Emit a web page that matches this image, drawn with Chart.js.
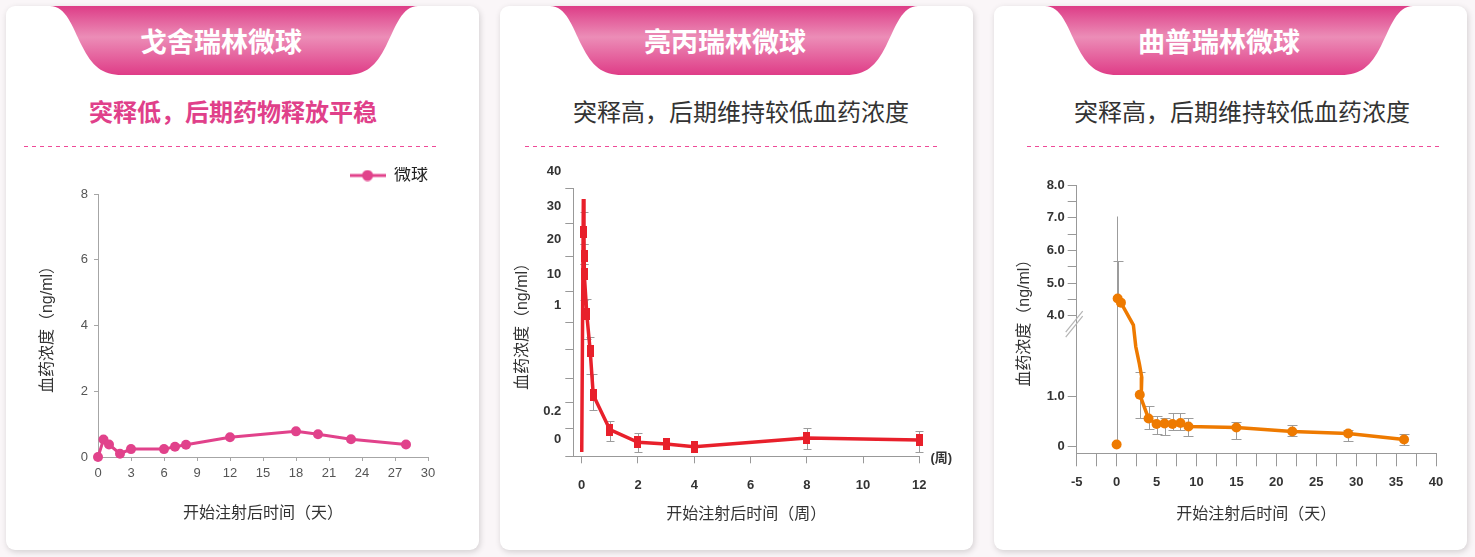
<!DOCTYPE html>
<html lang="zh-CN">
<head>
<meta charset="UTF-8">
<title>微球血药浓度对比</title>
<script src="https://cdn.jsdelivr.net/npm/chart.js"></script>
<style>
  body {
    margin: 0;
    width: 1475px;
    height: 557px;
    background: #faf6f8;
    font-family: "Noto Sans CJK SC", sans-serif;
    position: relative;
    overflow: hidden;
  }
  .card {
    position: absolute;
    top: 6px;
    width: 473px;
    height: 544px;
    background: #fff;
    border-radius: 9px;
    box-shadow: 1px 2px 6px rgba(0, 0, 0, 0.16);
  }
  .ribbon { position: absolute; top: 0; width: 368px; height: 69px; }
  .ribbon svg { display: block; }
  .title {
    position: absolute;
    top: 16px;
    width: 300px;
    line-height: 38px;
    text-align: center;
    color: #fff;
    font-size: 27px;
    font-weight: 700;
  }
  .sub {
    position: absolute;
    top: 89px;
    width: 400px;
    line-height: 32px;
    text-align: center;
    font-size: 24px;
    color: #333;
  }
  .sub.hot { color: #e0408a; font-weight: 700; }
  .dash {
    position: absolute;
    top: 140px;
    width: 415px;
    height: 1px;
    background: repeating-linear-gradient(90deg, #ef4a98 0 4px, transparent 4px 8px);
  }
  .plot { position: absolute; left: 0; top: 144px; width: 472px; height: 398px; }
</style>
</head>
<body>
  <div class="card" style="left:6px">
    <div class="ribbon" style="left:44px"><svg width="368" height="69"><use href="#rib"/></svg></div>
    <div class="title" style="left:65px">戈舍瑞林微球</div>
    <div class="sub hot" style="left:27px">突释低，后期药物释放平稳</div>
    <div class="dash" style="left:18px"></div>
    <div class="plot"><canvas id="gos"></canvas></div>
  </div>
  <div class="card" style="left:500px">
    <div class="ribbon" style="left:50px"><svg width="368" height="69"><use href="#rib"/></svg></div>
    <div class="title" style="left:75px">亮丙瑞林微球</div>
    <div class="sub" style="left:41px">突释高，后期维持较低血药浓度</div>
    <div class="dash" style="left:25px"></div>
    <div class="plot"><canvas id="lup"></canvas></div>
  </div>
  <div class="card" style="left:994px">
    <div class="ribbon" style="left:51px"><svg width="368" height="69"><use href="#rib"/></svg></div>
    <div class="title" style="left:75px">曲普瑞林微球</div>
    <div class="sub" style="left:48px">突释高，后期维持较低血药浓度</div>
    <div class="dash" style="left:33px"></div>
    <div class="plot"><canvas id="tri"></canvas></div>
  </div>

  <svg width="0" height="0" style="position:absolute">
    <defs>
      <linearGradient id="ribGrad" x1="0" y1="0" x2="0" y2="1">
        <stop offset="0" stop-color="#dd3d87"/>
        <stop offset="0.45" stop-color="#ec8db7"/>
        <stop offset="1" stop-color="#df3c87"/>
      </linearGradient>
      <path id="rib" fill="url(#ribGrad)"
        d="M0,0 L368,0 C352,0 346,20 336,40 C326,60 316,69 296,69 L72,69 C52,69 42,60 32,40 C22,20 16,0 0,0 Z"/>
    </defs>
  </svg>

<script>
// ---- 戈舍瑞林微球 (天, ng/ml)
const gosDay  = [0, 0.5, 1, 2, 3, 6, 7, 8, 12, 18, 20, 23, 28];
const gosConc = [0, 0.53, 0.38, 0.10, 0.24, 0.24, 0.31, 0.37, 0.60, 0.78, 0.69, 0.54, 0.38];

// ---- 亮丙瑞林微球 (周, ng/ml); first two points are the unmarked rise to the peak
const lupWeek   = [0, 0.057, 0.08, 0.085, 0.09, 0.18, 0.3, 0.41, 1, 2, 3, 4, 8, 12];
const lupConc   = [0.03, 37, 27.3, 20.1, 14.9, 3.3, 0.79, 0.46, 0.19, 0.10, 0.088, 0.069, 0.13, 0.117];
const lupHi     = [null, null, 33.2, 23.6, 17.7, 7.9, 0.89, 0.63, 0.26, 0.17, null, null, 0.20, 0.18];
const lupLo     = [null, null, 23.6, 17.7, 7.4, 0.88, 0.63, 0.34, 0.107, 0.03, null, null, 0.055, 0.034];
const lupMarked = [0, 0, 1, 1, 1, 1, 1, 1, 1, 1, 1, 1, 1, 1];
const lupWeekTicks = [0, 2, 4, 6, 8, 10, 12];
// broken y axis: tick values and where they sit along the axis
const lupTickVals = [0, 0.2, 0.4, 0.6, 0.8, 1, 10, 20, 30, 40];
const lupTickPos  = [0, 28, 54, 78, 107, 134, 165, 200, 233, 267.6];
const lupTickText = ['0', '0.2', '', '', '', '1', '10', '20', '30', '40'];

// ---- 曲普瑞林微球 (天, ng/ml)
const triBaseDay  = [0];
const triBaseConc = [0.03];
const triBaseHi   = [7.05];
const triDay    = [0.13, 0.54, 2.1, 2.4, 2.85, 3.15, 3.1, 2.9, 4, 5, 6, 7, 8, 9, 15, 22, 29, 36];
const triConc   = [4.53, 4.40, 3.65, 2.84, 2.2, 1.7, 1.2, 1.05, 0.55, 0.44, 0.45, 0.44, 0.46, 0.39, 0.37, 0.29, 0.25, 0.13];
const triHi     = [5.67, null, null, null, null, null, null, 1.90, 0.81, 0.61, 0.57, 0.67, 0.67, 0.57, 0.49, 0.43, 0.33, 0.25];
const triLo     = [null, null, null, null, null, null, null, 0.57, 0.34, 0.25, 0.22, 0.33, 0.33, 0.21, 0.14, 0.20, 0.10, 0.02];
const triMarked = [1, 1, 0, 0, 0, 0, 0, 1, 1, 1, 1, 1, 1, 1, 1, 1, 1, 1];
const triTickVals = [0, 1, 4, 4.5, 5, 5.5, 6, 6.5, 7, 7.5, 8];
const triTickPos  = [7.3, 57.3, 137.6, 153.9, 170.3, 186.6, 203, 219.3, 235.6, 252, 268.3];
const triTickText = ['0', '1.0', '4.0', '', '5.0', '', '6.0', '', '7.0', '', '8.0'];
const triBreakAt = 3.7;

Chart.defaults.animation = false;
Chart.defaults.font.family = '"Liberation Sans", "Noto Sans CJK SC", sans-serif';
Chart.defaults.plugins.tooltip.enabled = false;

// value -> position along a broken axis (piecewise linear between ticks)
function brokenAxis(vals, pos) {
  return function (v) {
    if (v <= vals[0]) return pos[0] + (v - vals[0]) * (pos[1] - pos[0]) / (vals[1] - vals[0]);
    for (let i = 1; i < vals.length; i++) {
      if (v <= vals[i]) {
        return pos[i - 1] + (v - vals[i - 1]) * (pos[i] - pos[i - 1]) / (vals[i] - vals[i - 1]);
      }
    }
    return pos[pos.length - 1];
  };
}
const lupPos = brokenAxis(lupTickVals, lupTickPos);
const triPos = brokenAxis(triTickVals, triTickPos);

function errorBars(toAxis) {
  return {
    id: 'errorBars',
    beforeDatasetsDraw(chart) {
      const {ctx, scales: {x, y}} = chart;
      chart.data.datasets.forEach(ds => {
        if (!ds.errHi) return;
        ctx.save();
        ctx.strokeStyle = '#9c9c9c';
        ctx.lineWidth = 1;
        ds.data.forEach((p, i) => {
          const px = Math.round(x.getPixelForValue(p.x)) + 0.5;
          const py0 = y.getPixelForValue(p.y);
          [ds.errHi[i], ds.errLo ? ds.errLo[i] : null].forEach(v => {
            if (v == null) return;
            const py = Math.round(y.getPixelForValue(toAxis(v))) + 0.5;
            ctx.beginPath();
            ctx.moveTo(px, py0);
            ctx.lineTo(px, py);
            if (ds.errCap) {
              ctx.moveTo(px - ds.errCap / 2, py);
              ctx.lineTo(px + ds.errCap / 2, py);
            }
            ctx.stroke();
          });
        });
        ctx.restore();
      });
    }
  };
}

function fixSize(w, h) {
  return function (scale) {
    if (w != null) scale.width = w;
    if (h != null) scale.height = h;
  };
}

const titleFont = {size: 16};
const boldTick = {size: 13, weight: 'bold'};

// ---------- chart 1
const gosColor = '#e1428b';
const legendMark = document.createElement('canvas');
legendMark.width = 36; legendMark.height = 12;
(function () {
  const c = legendMark.getContext('2d');
  c.strokeStyle = gosColor; c.lineWidth = 3;
  c.beginPath(); c.moveTo(0, 6); c.lineTo(36, 6); c.stroke();
  c.fillStyle = gosColor;
  c.beginPath(); c.arc(18, 6, 5.5, 0, Math.PI * 2); c.fill();
})();

new Chart(document.getElementById('gos'), {
  type: 'line',
  data: {
    datasets: [{
      label: '微球',
      data: gosDay.map((d, i) => ({x: d, y: gosConc[i]})),
      borderColor: gosColor,
      backgroundColor: gosColor,
      borderWidth: 3,
      pointRadius: 5,
      pointBorderWidth: 0,
      clip: false
    }]
  },
  options: {
    responsive: true,
    maintainAspectRatio: false,
    layout: {padding: {left: 28.4, right: 50, top: 17, bottom: 20.4}},
    plugins: {
      legend: {
        align: 'end',
        labels: {
          usePointStyle: true,
          pointStyle: legendMark,
          pointStyleWidth: 36,
          color: '#222',
          font: {size: 17, lineHeight: 1},
          padding: 0
        }
      }
    },
    scales: {
      x: {
        type: 'linear', min: 0, max: 30,
        afterFit: fixSize(null, 70.6),
        border: {color: '#a6a6a6'},
        grid: {drawOnChartArea: false, tickLength: 4, tickColor: '#a6a6a6'},
        ticks: {stepSize: 3, color: '#555', font: {size: 13}, padding: 5},
        title: {display: true, text: '开始注射后时间（天）', color: '#333', font: titleFont}
      },
      y: {
        min: 0, max: 8,
        afterFit: fixSize(63.6, null),
        border: {color: '#a6a6a6'},
        grid: {drawOnChartArea: false, tickLength: 4, tickColor: '#a6a6a6'},
        ticks: {stepSize: 2, color: '#555', font: {size: 13}, padding: 6},
        title: {display: true, text: '血药浓度（ng/ml）', color: '#333', font: titleFont}
      }
    }
  }
});

// ---------- chart 2
const lupColor = '#e8202b';
const lupMark = document.createElement('canvas');
lupMark.width = 7; lupMark.height = 12;
(function () {
  const c = lupMark.getContext('2d');
  c.fillStyle = lupColor; c.fillRect(0, 0, 7, 12);
})();

new Chart(document.getElementById('lup'), {
  type: 'line',
  data: {
    datasets: [{
      label: '亮丙瑞林',
      data: lupWeek.map((w, i) => ({x: w, y: lupPos(lupConc[i])})),
      errHi: lupHi,
      errLo: lupLo,
      errCap: 8,
      borderColor: lupColor,
      backgroundColor: lupColor,
      borderWidth: 3.5,
      pointStyle: lupMark,
      pointRadius: lupMarked.map(m => m ? 4 : 0),
      clip: false
    }]
  },
  options: {
    responsive: true,
    maintainAspectRatio: false,
    layout: {padding: {left: 9.4, right: 52.7, top: 38.7, bottom: 19.4}},
    plugins: {legend: {display: false}},
    scales: {
      x: {
        type: 'linear', min: -0.3, max: 12,
        afterBuildTicks: s => { s.ticks = lupWeekTicks.map(v => ({value: v})); },
        afterFit: fixSize(null, 72.3),
        border: {color: '#999'},
        grid: {drawOnChartArea: false, tickLength: 7, tickColor: '#999'},
        ticks: {color: '#333', font: boldTick, padding: 14},
        title: {display: true, text: '开始注射后时间（周）', color: '#333', font: titleFont}
      },
      y: {
        min: 0, max: lupTickPos[lupTickPos.length - 1],
        afterBuildTicks: s => { s.ticks = lupTickPos.map(v => ({value: v})); },
        afterFit: fixSize(63.9, null),
        border: {color: '#999'},
        grid: {drawOnChartArea: false, tickLength: 8, tickColor: '#999'},
        ticks: {
          autoSkip: false,
          color: '#333', font: boldTick, padding: 4, labelOffset: -17,
          callback: (v, i) => lupTickText[i]
        },
        title: {display: true, text: '血药浓度（ng/ml）', color: '#333', font: titleFont}
      }
    }
  },
  plugins: [errorBars(lupPos), {
    id: 'unitLabel',
    afterDraw(chart) {
      const {ctx, scales: {x, y}} = chart;
      ctx.save();
      ctx.fillStyle = '#333';
      ctx.font = 'bold 13px "Liberation Sans", "Noto Sans CJK SC", sans-serif';
      ctx.textAlign = 'center';
      ctx.textBaseline = 'middle';
      ctx.fillText('(周)', x.right + 22, y.bottom + 2);
      ctx.restore();
    }
  }]
});

// ---------- chart 3
const triColor = '#ee7a00';

new Chart(document.getElementById('tri'), {
  type: 'line',
  data: {
    datasets: [{
      label: '曲普瑞林',
      data: triDay.map((d, i) => ({x: d, y: triPos(triConc[i])})),
      errHi: triHi,
      errLo: triLo,
      errCap: 10,
      borderColor: triColor,
      backgroundColor: triColor,
      borderWidth: 3.5,
      pointRadius: triMarked.map(m => m ? 5 : 0),
      pointBorderWidth: 0,
      clip: false
    }, {
      label: '基线',
      data: triBaseDay.map((d, i) => ({x: d, y: triPos(triBaseConc[i])})),
      errHi: triBaseHi,
      errCap: 0,
      showLine: false,
      backgroundColor: triColor,
      borderColor: triColor,
      pointRadius: 5,
      pointBorderWidth: 0,
      clip: false
    }]
  },
  options: {
    responsive: true,
    maintainAspectRatio: false,
    layout: {padding: {left: 17.4, right: 30, top: 35, bottom: 19.4}},
    plugins: {legend: {display: false}},
    scales: {
      x: {
        type: 'linear', min: -5, max: 40,
        afterFit: fixSize(null, 75.3),
        border: {color: '#999'},
        grid: {drawOnChartArea: false, tickLength: 13, tickColor: '#999'},
        ticks: {
          stepSize: 2.5, autoSkip: false, maxRotation: 0,
          color: '#333', font: boldTick, padding: 8,
          callback: v => (v % 5 === 0 ? String(v) : '')
        },
        title: {display: true, text: '开始注射后时间（天）', color: '#333', font: titleFont}
      },
      y: {
        min: 0, max: triTickPos[triTickPos.length - 1],
        afterBuildTicks: s => { s.ticks = triTickPos.map(v => ({value: v})); },
        afterFit: fixSize(65.3, null),
        border: {color: '#999'},
        grid: {drawOnChartArea: false, tickLength: 9, tickColor: '#999'},
        ticks: {
          autoSkip: false,
          color: '#333', font: boldTick, padding: 3,
          callback: (v, i) => triTickText[i]
        },
        title: {display: true, text: '血药浓度（ng/ml）', color: '#333', font: titleFont}
      }
    }
  },
  plugins: [errorBars(triPos), {
    id: 'axisBreak',
    afterDraw(chart) {
      const {ctx, scales: {x, y}} = chart;
      const cx = x.left - 2;
      const cy = y.getPixelForValue(triPos(triBreakAt));
      ctx.save();
      ctx.strokeStyle = '#b5b5b5';
      ctx.lineWidth = 1.2;
      [-2.5, 2.5].forEach(d => {
        ctx.beginPath();
        ctx.moveTo(cx - 9, cy + 11 + d);
        ctx.lineTo(cx + 8, cy - 10 + d);
        ctx.stroke();
      });
      ctx.restore();
    }
  }]
});
</script>
</body>
</html>
